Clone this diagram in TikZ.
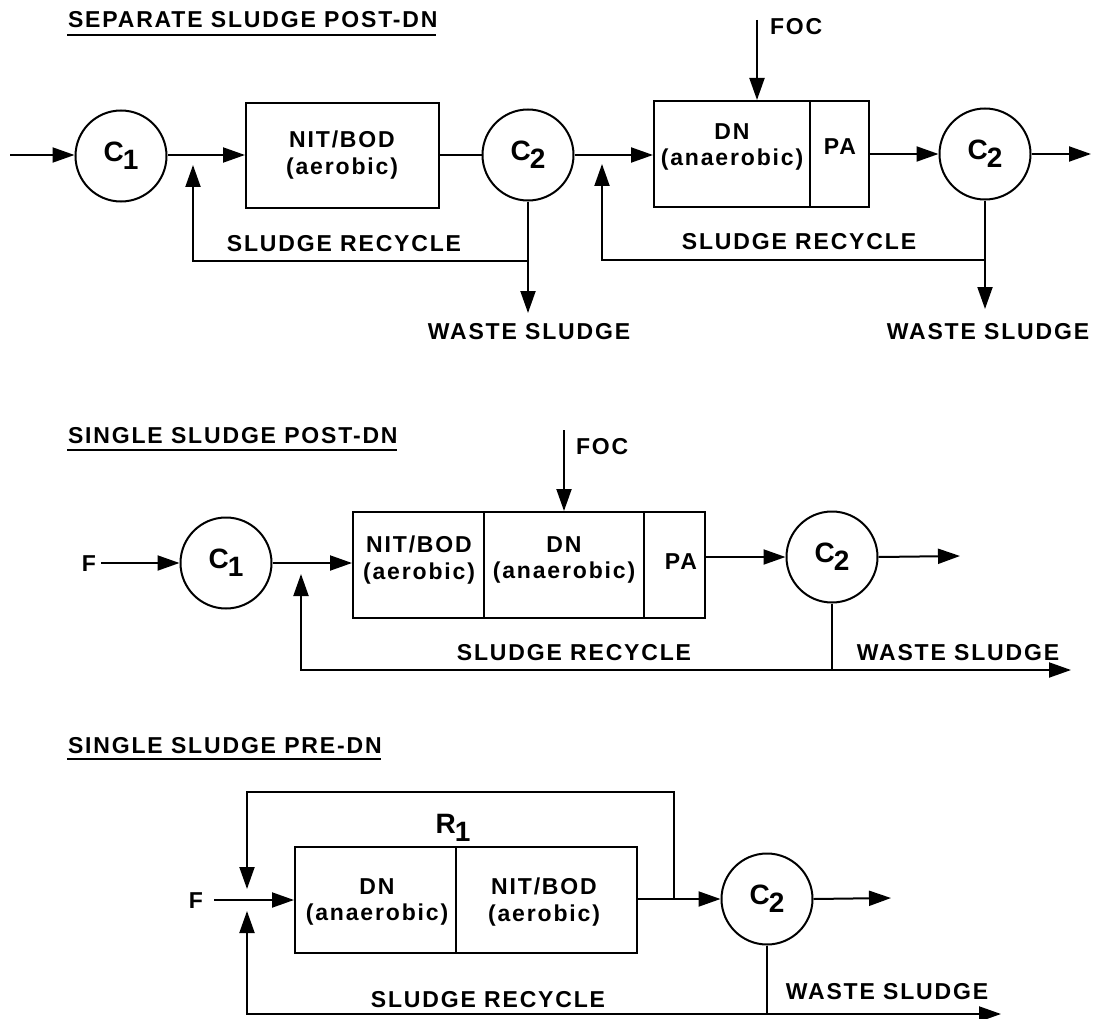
\documentclass[tikz,border=0pt]{standalone}
\usepackage{fontspec}
\setmainfont{Liberation Sans}[LetterSpace=8]
\newfontfamily\plainf{Liberation Sans}
\usetikzlibrary{arrows.meta,calc}
\newcommand\Sb[2]{#1\kern-1pt\raisebox{-8pt}{#2}}
\begin{document}
\begin{tikzpicture}[x=1pt,y=-1pt,line width=2pt,
  arr/.style={-{Triangle[length=22pt,width=15pt]}},
  circ/.style={draw,circle,minimum size=91pt,inner sep=0pt,font=\plainf\bfseries\fontsize{28}{30}\selectfont},
  sublbl/.style={inner sep=0pt,font=\plainf\bfseries\fontsize{28}{30}\selectfont},
  box/.style={draw,rectangle,inner sep=0pt},
  lbl/.style={font=\bfseries\fontsize{23}{26.5}\selectfont,inner sep=0pt,align=center},
  ttl/.style={font=\bfseries\fontsize{23}{28}\selectfont,inner sep=0pt,anchor=base west},
  uline/.style={line width=2.5pt}]
\useasboundingbox (0,0) rectangle (1094,1019);

% ================= Row 1 =================
\node[ttl] (t1) at (67,28) {SEPARATE SLUDGE POST-DN};
\draw[uline] ($(t1.base west)+(0,7)$) -- ($(t1.base east)+(-2,7)$);

\coordinate (in1) at (10,155);
\node[circ] (c1a) at (121,156) {\Sb{C}{1}};
\node[box,minimum width=193pt,minimum height=105pt] (b1) at (342.5,155.5) {};
\node[lbl] (tb1) at (342,155) {NIT/BOD\\(aerobic)};
\node[circ] (c2a) at (528,155) {\Sb{C}{2}};
\node[box,minimum width=156pt,minimum height=106pt] (dn1) at (732,154) {};
\node[box,minimum width=59pt,minimum height=106pt] (pa1) at (839.5,154) {};
\node[lbl] (tdn1) at (732,147) {DN\\(anaerobic)};
\node[lbl] (tpa1) at (840,147) {PA};
\node[circ] (c2b) at (985,154) {\Sb{C}{2}};
\coordinate (out1) at (1091,154);

\coordinate (foc1) at (757,20);
\node[lbl,anchor=west] (tfoc1) at (769,27) {FOC};
\draw[arr] (foc1) -- (foc1 |- dn1.north);

\draw[arr] (in1) -- (in1 -| c1a.west);
\draw[arr] (c1a.east |- in1) -- (in1 -| b1.west);
\draw (b1.east |- c2a) -- (c2a.west);
\draw[arr] (c2a.east) -- (c2a.east -| dn1.west);
\draw[arr] (pa1.east |- c2b) -- (c2b.west);
\draw[arr] (c2b.east) -- (out1);

\coordinate (r1) at (528,261);
\coordinate (j1) at (193,165);
\coordinate (w1) at (528,313);
\draw[arr] (c2a.south) -- (w1);
\draw[arr] (r1) -| (j1);
\node[lbl] (tr1) at (344,243.5) {SLUDGE RECYCLE};
\node[lbl] (tw1) at (529,332) {WASTE SLUDGE};

\coordinate (r2) at (985,260);
\coordinate (j2) at (602,164);
\coordinate (w2) at (985,309);
\draw[arr] (c2b.south) -- (w2);
\draw[arr] (r2) -| (j2);
\node[lbl] (tr2) at (799,242) {SLUDGE RECYCLE};
\node[lbl] (tw2) at (988,332) {WASTE SLUDGE};

% ================= Row 2 =================
\node[ttl] (t2) at (67,443) {SINGLE SLUDGE POST-DN};
\draw[uline] ($(t2.base west)+(0,7)$) -- ($(t2.base east)+(-2,7)$);

\node[lbl] (tf2) at (89,564) {F};
\coordinate (in2) at (101,563);
\node[circ] (c1b) at (226,563) {\Sb{C}{1}};
\node[box,minimum width=131pt,minimum height=106pt] (nit2) at (418.5,565) {};
\node[box,minimum width=160pt,minimum height=106pt] (dn2) at (564,565) {};
\node[box,minimum width=61pt,minimum height=106pt] (pa2) at (674.5,565) {};
\node[lbl] (tnit2) at (419,560) {NIT/BOD\\(aerobic)};
\node[lbl] (tdn2) at (564,560) {DN\\(anaerobic)};
\node[lbl] (tpa2) at (681,562) {PA};
\node[circ] (c2c) at (832,557) {\Sb{C}{2}};
\coordinate (out2) at (960,556);

\coordinate (foc2) at (564,430);
\node[lbl,anchor=west] (tfoc2) at (575,447) {FOC};
\draw[arr] (foc2) -- (foc2 |- dn2.north);

\draw[arr] (in2) -- (c1b.west);
\draw[arr] (c1b.east) -- (c1b.east -| nit2.west);
\draw[arr] (pa2.east |- c2c) -- (c2c.west);
\draw[arr] (c2c.east) -- (out2);

\coordinate (r3) at (832,670);
\coordinate (j3) at (301,574);
\coordinate (w3) at (1071,670);
\draw (c2c.south) -- (r3);
\draw[arr] (r3) -| (j3);
\draw[arr] (r3) -- (w3);
\node[lbl] (tr3) at (574,653) {SLUDGE RECYCLE};
\node[lbl] (tw3) at (958,653) {WASTE SLUDGE};

% ================= Row 3 =================
\node[ttl] (t3) at (67,753) {SINGLE SLUDGE PRE-DN};
\draw[uline] ($(t3.base west)+(0,6)$) -- ($(t3.base east)+(-2,6)$);

\node[lbl] (tf3) at (196,901) {F};
\coordinate (in3) at (214,900);
\node[box,minimum width=161pt,minimum height=106pt] (dn3) at (375.5,900) {};
\node[box,minimum width=181pt,minimum height=106pt] (nit3) at (546.5,900) {};
\node[lbl] (tdn3) at (377,902) {DN\\(anaerobic)};
\node[lbl] (tnit3) at (544,902) {NIT/BOD\\(aerobic)};
\node[sublbl] (tr1b) at (453,828) {\Sb{R}{1}};
\node[circ] (c2d) at (767,899) {\Sb{C}{2}};
\coordinate (out3) at (891,898);

\draw[arr] (in3) -- (in3 -| dn3.west);
\draw[arr] (nit3.east |- c2d) -- (c2d.west);
\draw[arr] (c2d.east) -- (out3);

\coordinate (k1) at (674,899);
\coordinate (k2) at (247,792);
\coordinate (j4t) at (247,889);
\draw[arr] (k1) |- (k2) -- (j4t);

\coordinate (r4) at (767,1014);
\coordinate (k3) at (247,1014);
\coordinate (j4b) at (247,911);
\coordinate (w4) at (1001,1014);
\draw (c2d.south) -- (r4);
\draw[arr] (r4) -- (k3) -- (j4b);
\draw[arr] (r4) -- (w4);
\node[lbl] (tr4) at (488,1000) {SLUDGE RECYCLE};
\node[lbl] (tw4) at (887,992) {WASTE SLUDGE};
\end{tikzpicture}
\end{document}
